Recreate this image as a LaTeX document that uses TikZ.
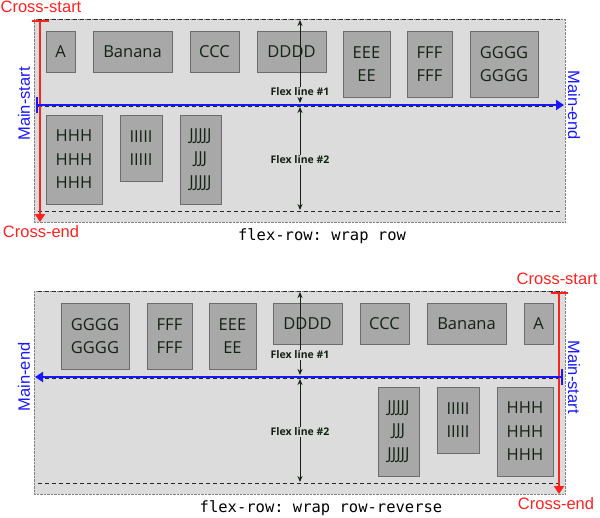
\documentclass[tikz,border=0pt]{standalone}
\usepackage{fontspec}
\setmainfont{Open Sans}
\setmonofont{DejaVu Sans Mono}
\newfontfamily\axisfont{Liberation Sans}
\usetikzlibrary{arrows.meta}
\definecolor{boxFill}{RGB}{168,168,168}
\definecolor{boxLine}{RGB}{108,108,108}
\definecolor{lineFill}{RGB}{220,220,220}
\definecolor{inkColor}{RGB}{20,34,20}
\definecolor{crossColor}{RGB}{255,32,32}
\definecolor{mainColor}{RGB}{24,24,255}

\begin{document}
\begin{tikzpicture}[x=1pt,y=-1pt,
  item/.style={draw=boxLine, fill=boxFill, line width=0.8pt, text=inkColor, align=center, inner sep=0pt,
    font=\fontsize{16.5}{23.5}\selectfont},
  flexlbl/.style={fill=lineFill, text=inkColor, inner sep=1pt, font=\fontsize{10.5}{12}\selectfont\bfseries},
  flexarrow/.style={draw=inkColor, line width=0.9pt, {Stealth[length=6pt,width=5pt]}-{Stealth[length=6pt,width=5pt]}},
  crossarrow/.style={draw=crossColor, line width=2pt, {Bar[width=17pt]}-{Triangle[length=8pt,width=10pt]}},
  mainarrow/.style={draw=mainColor, line width=2pt, {Bar[width=16pt]}-{Triangle[length=8pt,width=10pt]}},
  crosslbl/.style={text=crossColor, inner sep=0pt, font=\axisfont\fontsize{16.5}{18}\selectfont},
  mainlbl/.style={text=mainColor, inner sep=0pt, font=\axisfont\fontsize{16.5}{18}\selectfont},
  caption/.style={inner sep=0pt, font=\ttfamily\fontsize{15.5}{18}\selectfont},
  container/.style={draw=gray, densely dotted, fill=lineFill},
  flexline/.style={draw=black!85, dash pattern=on 4pt off 3pt, line width=0.8pt},
]
\useasboundingbox (0,0) rectangle (600,517);

% wrap row
\draw [container] (34,19) rectangle (565,222);
\draw [flexline] (38,19) -- (562,19);
\draw [flexline] (38,106) -- (562,106);
\draw [flexline] (38,211) -- (562,211);

\node [item, minimum width=29, minimum height=41] (a1) at (60.5,51.5) {A};
\node [item, minimum width=79, minimum height=41] (b1) at (132.5,51.5) {Banana};
\node [item, minimum width=49, minimum height=41] (c1) at (214.5,51.5) {CCC};
\node [item, minimum width=69, minimum height=41] (d1) at (291.5,51.5) {DDDD};
\node [item, minimum width=47, minimum height=66] (e1) at (366.5,64) {EEE\\EE};
\node [item, minimum width=45, minimum height=66] (f1) at (429.5,64) {FFF\\FFF};
\node [item, minimum width=68, minimum height=66] (g1) at (504,64) {GGGG\\GGGG};
\node [item, minimum width=56, minimum height=89] (h1) at (74,159.5) {HHH\\HHH\\HHH};
\node [item, minimum width=42, minimum height=66] (i1) at (141,148) {IIIII\\IIIII};
\node [item, minimum width=41, minimum height=89] (j1) at (200.5,159.5) {JJJJJ\\JJJ\\JJJJJ};

\coordinate (topA) at (300,20);
\coordinate (topB) at (300,103);
\coordinate (topC) at (300,107);
\coordinate (topD) at (300,210);
\draw [flexarrow] (topA) -- (topB);
\draw [flexarrow] (topC) -- (topD);
\node [flexlbl] (lineA) at (300,92) {Flex line \#1};
\node [flexlbl] (lineB) at (300,160) {Flex line \#2};

\coordinate (csTop) at (40,20);
\coordinate (ceTop) at (40,222);
\coordinate (msTop) at (36,105);
\coordinate (meTop) at (564,105);
\draw [crossarrow] (csTop) -- (ceTop);
\draw [mainarrow] (msTop) -- (meTop);
\node [crosslbl] (crossStartA) at (41,7) {Cross-start};
\node [crosslbl] (crossEndA) at (41,232) {Cross-end};
\node [mainlbl, rotate=90] (mainStartA) at (24,104) {Main-start};
\node [mainlbl, rotate=-90] (mainEndA) at (574,105) {Main-end};
\node [caption] (capA) at (322,236) {flex-row: wrap row};

% wrap row-reverse
\draw [container] (34,291) rectangle (565,494);
\draw [flexline] (38,291) -- (562,291);
\draw [flexline] (38,378) -- (562,378);
\draw [flexline] (38,483) -- (562,483);

\node [item, minimum width=68, minimum height=66] (g2) at (95,336) {GGGG\\GGGG};
\node [item, minimum width=45, minimum height=66] (f2) at (169.5,336) {FFF\\FFF};
\node [item, minimum width=47, minimum height=66] (e2) at (232.5,336) {EEE\\EE};
\node [item, minimum width=69, minimum height=41] (d2) at (307.5,323.5) {DDDD};
\node [item, minimum width=49, minimum height=41] (c2) at (384.5,323.5) {CCC};
\node [item, minimum width=79, minimum height=41] (b2) at (466.5,323.5) {Banana};
\node [item, minimum width=29, minimum height=41] (a2) at (538.5,323.5) {A};
\node [item, minimum width=41, minimum height=89] (j2) at (398.5,431.5) {JJJJJ\\JJJ\\JJJJJ};
\node [item, minimum width=42, minimum height=66] (i2) at (458,420) {IIIII\\IIIII};
\node [item, minimum width=56, minimum height=89] (h2) at (525,431.5) {HHH\\HHH\\HHH};

\coordinate (botA) at (300,292);
\coordinate (botB) at (300,375);
\coordinate (botC) at (300,379);
\coordinate (botD) at (300,482);
\draw [flexarrow] (botA) -- (botB);
\draw [flexarrow] (botC) -- (botD);
\node [flexlbl] (lineC) at (300,355) {Flex line \#1};
\node [flexlbl] (lineD) at (300,432) {Flex line \#2};

\coordinate (csBot) at (559,292);
\coordinate (ceBot) at (559,494);
\coordinate (msBot) at (563,377);
\coordinate (meBot) at (35,377);
\draw [crossarrow] (csBot) -- (ceBot);
\draw [mainarrow] (msBot) -- (meBot);
\node [crosslbl] (crossStartB) at (557,279) {Cross-start};
\node [crosslbl] (crossEndB) at (556,504) {Cross-end};
\node [mainlbl, rotate=90] (mainEndB) at (24,377) {Main-end};
\node [mainlbl, rotate=-90] (mainStartB) at (574,377) {Main-start};
\node [caption] (capB) at (321,508) {flex-row: wrap row-reverse};
\end{tikzpicture}
\end{document}
